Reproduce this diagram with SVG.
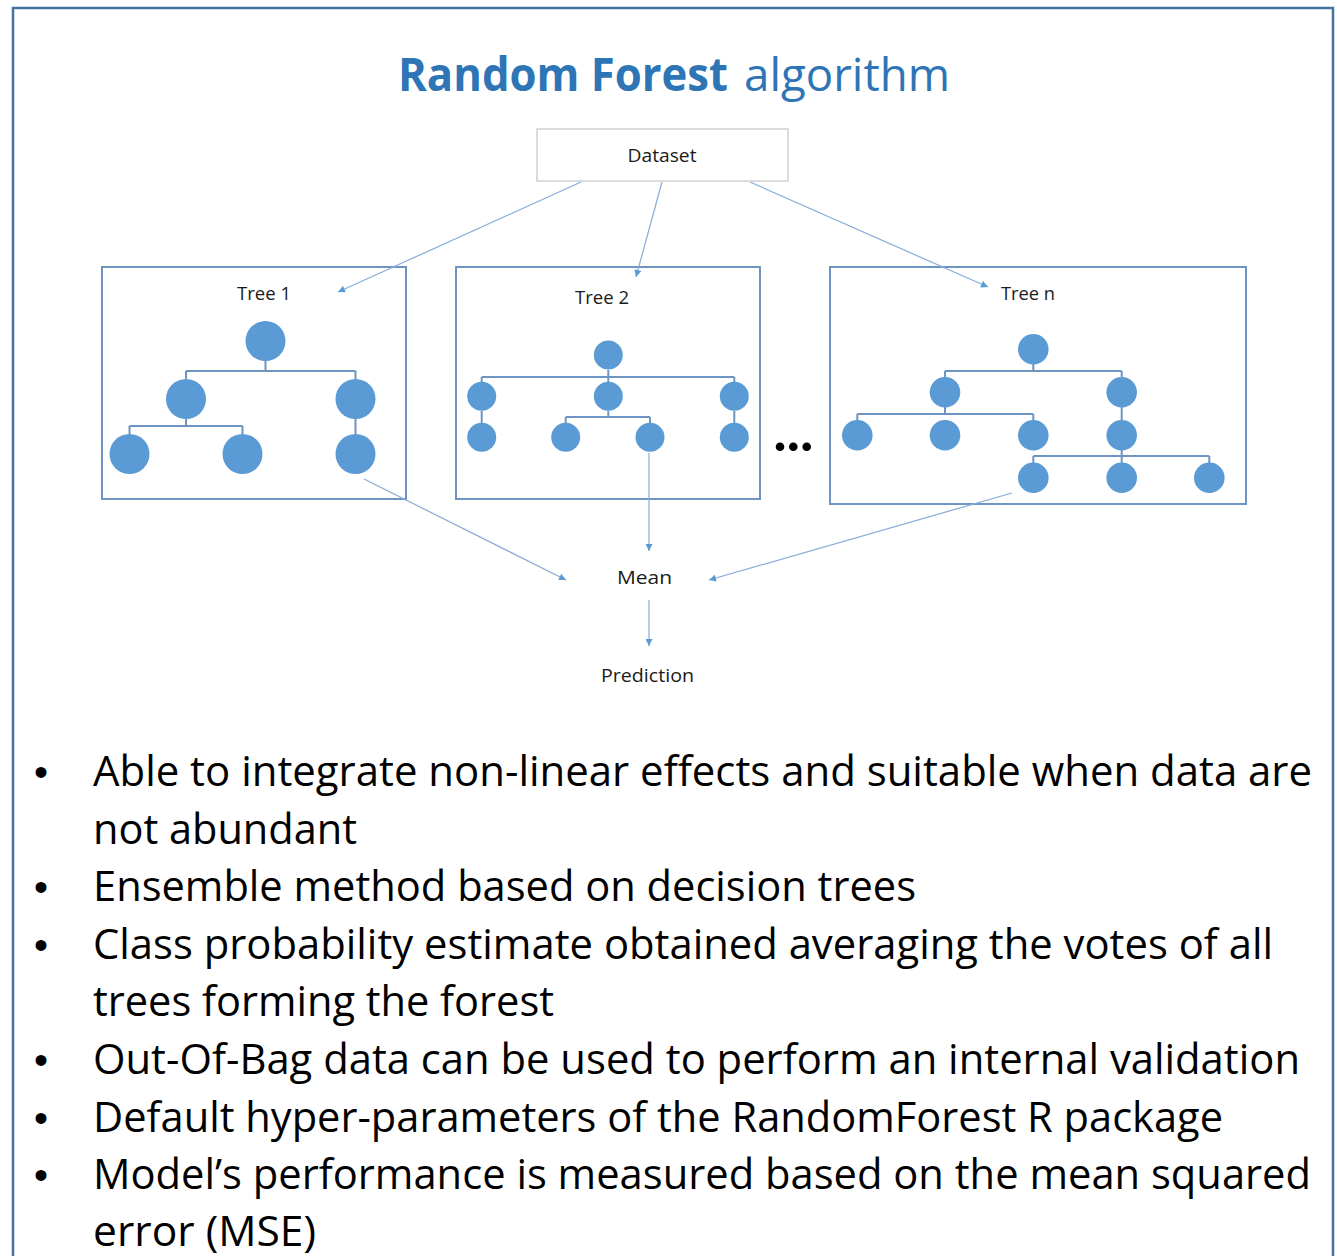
<svg xmlns="http://www.w3.org/2000/svg" width="1337" height="1256" viewBox="0 0 1337 1256">
<defs>
<marker id="ah" viewBox="0 0 10 10" refX="10" refY="5" markerWidth="8" markerHeight="7" markerUnits="userSpaceOnUse" orient="auto">
<path d="M0,0 L10,5 L0,10 Z" fill="#5b9bd5"/>
</marker>
<style>
.lbl{font-family:"Open Sans","Liberation Sans",sans-serif;font-size:18px;fill:#1a1a1a;text-anchor:middle}
.tbox{fill:none;stroke:#6e94c2;stroke-width:2}
.nd{fill:#5b9bd5}
.br{fill:none;stroke:#6e94c2;stroke-width:2}
.arr{fill:none;stroke:#86acd8;stroke-width:1.2;marker-end:url(#ah)}
.bt{font-family:"Open Sans","Liberation Sans",sans-serif;font-size:42px;fill:#000}
.bul{font-family:"Liberation Sans",sans-serif;font-size:40px;fill:#000;text-anchor:middle}
</style>
</defs>
<rect width="1337" height="1256" fill="#fff"/>
<path d="M13,1256 V8 H1333 V1256" fill="none" stroke="#4a72a0" stroke-width="2.5"/>

<g id="title">
<text x="398" y="91" font-family="'Open Sans','Liberation Sans',sans-serif" font-size="46" font-weight="bold" fill="#2e75b6" textLength="330" lengthAdjust="spacingAndGlyphs">Random Forest</text>
<text x="744" y="91" font-family="'Open Sans','Liberation Sans',sans-serif" font-size="46" fill="#2e75b6" textLength="206" lengthAdjust="spacingAndGlyphs">algorithm</text>
</g>

<g id="dataset">
<rect x="537" y="129" width="251" height="52" fill="#fff" stroke="#d0d0d0" stroke-width="1.5"/>
<text class="lbl" x="662" y="162" textLength="69" lengthAdjust="spacingAndGlyphs">Dataset</text>
</g>

<g id="tree1">
<rect class="tbox" x="102" y="267" width="304" height="232"/>
<text class="lbl" x="264" y="300" textLength="54" lengthAdjust="spacingAndGlyphs">Tree 1</text>
<path class="br" d="M265.5,361 V371 M186,371 H355.5 M186,371 V379 M355.5,371 V379 M186,419 V426 M129.5,426 H242.5 M129.5,426 V434 M242.5,426 V434 M355.5,419 V434"/>
<circle class="nd" cx="265.5" cy="341" r="20"/>
<circle class="nd" cx="186" cy="399" r="20"/>
<circle class="nd" cx="355.5" cy="399" r="20"/>
<circle class="nd" cx="129.5" cy="454" r="20"/>
<circle class="nd" cx="242.5" cy="454" r="20"/>
<circle class="nd" cx="355.5" cy="454" r="20"/>
</g>

<g id="tree2">
<rect class="tbox" x="456" y="267" width="304" height="232"/>
<text class="lbl" x="602" y="304" textLength="54" lengthAdjust="spacingAndGlyphs">Tree 2</text>
<path class="br" d="M608.3,370 V377 M481.7,377 H734.3 M481.7,377 V382 M608.3,377 V382 M734.3,377 V382 M481.7,411 V423 M734.3,411 V423 M608.3,411 V417 M565.7,417 H650 M565.7,417 V423 M650,417 V423"/>
<circle class="nd" cx="608.3" cy="355" r="14.5"/>
<circle class="nd" cx="481.7" cy="396.3" r="14.5"/>
<circle class="nd" cx="608.3" cy="396.3" r="14.5"/>
<circle class="nd" cx="734.3" cy="396.3" r="14.5"/>
<circle class="nd" cx="481.7" cy="437.3" r="14.5"/>
<circle class="nd" cx="565.7" cy="437.3" r="14.5"/>
<circle class="nd" cx="650" cy="437.3" r="14.5"/>
<circle class="nd" cx="734.3" cy="437.3" r="14.5"/>
</g>

<g id="ellipsis">
<circle cx="780" cy="446.7" r="4.3" fill="#000"/>
<circle cx="793.3" cy="446.7" r="4.3" fill="#000"/>
<circle cx="806.7" cy="446.7" r="4.3" fill="#000"/>
</g>

<g id="treen">
<rect class="tbox" x="830" y="267" width="416" height="237"/>
<text class="lbl" x="1028" y="300" textLength="54" lengthAdjust="spacingAndGlyphs">Tree n</text>
<path class="br" d="M1033.3,364 V371 M945,371 H1121.7 M945,371 V377 M1121.7,371 V377 M945,407 V414 M857.3,414 H1033.3 M857.3,414 V420 M1033.3,414 V420 M1121.7,407 V420 M1121.7,450 V456 M1033.3,456 H1209.3 M1033.3,456 V463 M1121.7,456 V463 M1209.3,456 V463"/>
<circle class="nd" cx="1033.3" cy="349.3" r="15.3"/>
<circle class="nd" cx="945" cy="392.3" r="15.3"/>
<circle class="nd" cx="1121.7" cy="392.3" r="15.3"/>
<circle class="nd" cx="857.3" cy="435.3" r="15.3"/>
<circle class="nd" cx="945" cy="435.3" r="15.3"/>
<circle class="nd" cx="1033.3" cy="435.3" r="15.3"/>
<circle class="nd" cx="1121.7" cy="435.3" r="15.3"/>
<circle class="nd" cx="1033.3" cy="477.7" r="15.3"/>
<circle class="nd" cx="1121.7" cy="477.7" r="15.3"/>
<circle class="nd" cx="1209.3" cy="477.7" r="15.3"/>
</g>

<g id="mean">
<text class="lbl" x="644.5" y="584" textLength="55" lengthAdjust="spacingAndGlyphs">Mean</text>
</g>
<g id="prediction">
<text class="lbl" x="647.5" y="682" textLength="93" lengthAdjust="spacingAndGlyphs">Prediction</text>
</g>

<g id="connectors">
<line class="arr" x1="581" y1="182" x2="338" y2="292"/>
<line class="arr" x1="662" y1="182" x2="636" y2="277"/>
<line class="arr" x1="750" y1="182" x2="988" y2="287"/>
<line class="arr" x1="364" y1="479" x2="566" y2="580"/>
<line class="arr" x1="649" y1="453" x2="649" y2="551"/>
<line class="arr" x1="1012" y1="493" x2="709" y2="580"/>
<line class="arr" x1="649" y1="600" x2="649" y2="646"/>
</g>

<g id="bullets">
<text class="bul" x="41" y="786">•</text>
<text class="bt" x="93" y="786" textLength="1219" lengthAdjust="spacingAndGlyphs">Able to integrate non-linear effects and suitable when data are</text>
<text class="bt" x="93" y="844" textLength="264" lengthAdjust="spacingAndGlyphs">not abundant</text>
<text class="bul" x="41" y="901">•</text>
<text class="bt" x="93" y="901" textLength="823" lengthAdjust="spacingAndGlyphs">Ensemble method based on decision trees</text>
<text class="bul" x="41" y="959">•</text>
<text class="bt" x="93" y="959" textLength="1180" lengthAdjust="spacingAndGlyphs">Class probability estimate obtained averaging the votes of all</text>
<text class="bt" x="93" y="1016" textLength="461" lengthAdjust="spacingAndGlyphs">trees forming the forest</text>
<text class="bul" x="41" y="1074">•</text>
<text class="bt" x="93" y="1074" textLength="1207" lengthAdjust="spacingAndGlyphs">Out-Of-Bag data can be used to perform an internal validation</text>
<text class="bul" x="41" y="1132">•</text>
<text class="bt" x="93" y="1132" textLength="1130" lengthAdjust="spacingAndGlyphs">Default hyper-parameters of the RandomForest R package</text>
<text class="bul" x="41" y="1189">•</text>
<text class="bt" x="93" y="1189" textLength="1218" lengthAdjust="spacingAndGlyphs">Model’s performance is measured based on the mean squared</text>
<text class="bt" x="93" y="1246" textLength="223" lengthAdjust="spacingAndGlyphs">error (MSE)</text>
</g>
</svg>
